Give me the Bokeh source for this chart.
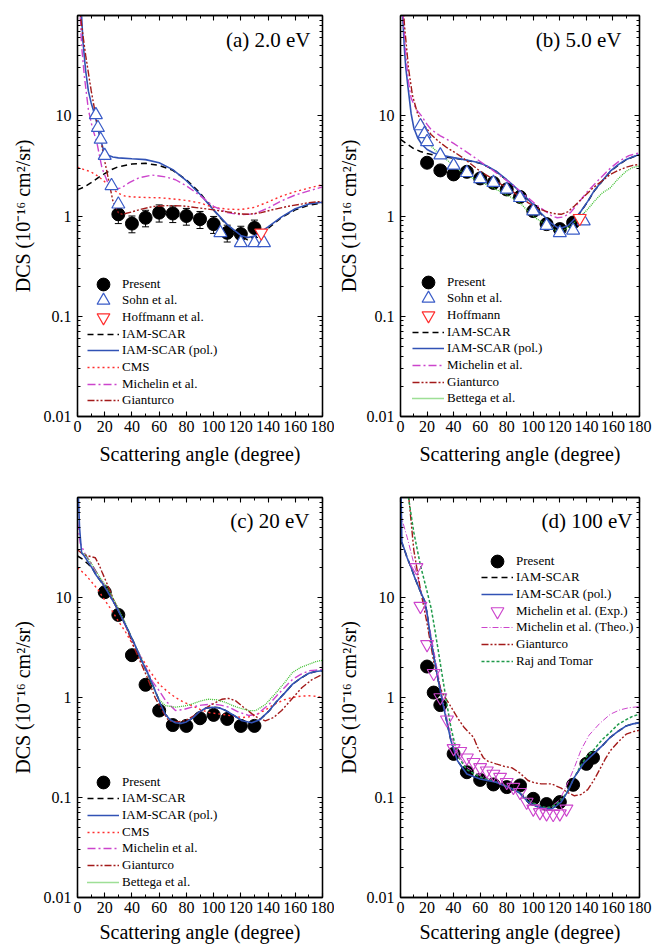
from bokeh.plotting import figure
from bokeh.models import (FixedTicker, CustomJSTickFormatter, LinearAxis, LogAxis,
                          Legend, LegendItem, Label, Whisker, TeeHead, ColumnDataSource)
from bokeh.layouts import column, row
from bokeh.embed import file_html
from bokeh.resources import INLINE

FONT = "Liberation Serif"

# ---------------- axes ticks / labels ----------------
X_TICKS = [0, 20, 40, 60, 80, 100, 120, 140, 160, 180]
X_MINOR = [10, 30, 50, 70, 90, 110, 130, 150, 170]
Y_TICKS = [0.01, 0.1, 1, 10]
Y_MINOR = [0.02, 0.03, 0.04, 0.05, 0.06, 0.07, 0.08, 0.09,
           0.2, 0.3, 0.4, 0.5, 0.6, 0.7, 0.8, 0.9,
           2, 3, 4, 5, 6, 7, 8, 9, 20, 30, 40, 50, 60, 70, 80, 90]
X_LABEL = "Scattering angle (degree)"
Y_LABEL = "DCS (10\u207b\u00b9\u2076 cm\u00b2/sr)"
PANEL_TITLES = ["(a) 2.0 eV", "(b) 5.0 eV", "(c) 20 eV", "(d) 100 eV"]

# ---------------- panel (a) 2.0 eV ----------------
A_PRES_X = [30, 40, 50, 60, 70, 80, 90, 100, 110, 120, 130]
A_PRES_Y = [1.04, 0.84, 0.96, 1.08, 1.06, 1.0, 0.93, 0.83, 0.68, 0.66, 0.76]
A_PRES_ERR = [0.2, 0.16, 0.18, 0.21, 0.2, 0.19, 0.18, 0.16, 0.13, 0.13, 0.15]
A_SOHN_X = [13.5, 15, 17, 20, 25, 30, 105, 120, 130, 137]
A_SOHN_Y = [10.2, 7.6, 5.8, 4.0, 2.0, 1.31, 0.68, 0.54, 0.54, 0.54]
A_HOFF_X = [135]
A_HOFF_Y = [0.68]
A_IAM_X = [0, 5, 10, 15, 20, 25, 30, 40, 50, 60, 70, 80, 90, 100, 110, 120, 125, 130, 140, 150, 160, 170, 180]
A_IAM_Y = [1.82, 1.95, 2.15, 2.4, 2.65, 2.9, 3.1, 3.3, 3.35, 3.2, 2.85, 2.3, 1.7, 1.15, 0.8, 0.62, 0.58, 0.6, 0.75, 0.97, 1.15, 1.28, 1.35]
A_POL_X = [0, 2, 3, 4, 6, 8, 10, 13, 16, 19, 22, 26, 30, 40, 50, 60, 70, 80, 90, 100, 110, 120, 125, 130, 140, 150, 160, 170, 180]
A_POL_Y = [300, 160, 100, 55, 28, 17.6, 13.5, 9.9, 6.5, 4.6, 4.05, 3.88, 3.8, 3.72, 3.65, 3.4, 2.9, 2.25, 1.65, 1.15, 0.82, 0.64, 0.61, 0.63, 0.78, 0.98, 1.18, 1.32, 1.37]
A_CMS_X = [0, 5, 10, 15, 20, 25, 30, 35, 40, 50, 60, 70, 80, 90, 100, 110, 120, 130, 140, 150, 160, 170, 180]
A_CMS_Y = [3.07, 2.9, 2.75, 2.5, 2.2, 1.9, 1.68, 1.58, 1.55, 1.53, 1.52, 1.48, 1.43, 1.35, 1.22, 1.17, 1.16, 1.22, 1.38, 1.58, 1.75, 1.9, 2.05]
A_MICH_X = [0, 2, 3, 5, 8, 11, 14, 18, 22, 27, 32, 38, 45, 55, 65, 72, 80, 90, 100, 110, 120, 130, 140, 150, 160, 170, 180]
A_MICH_Y = [200, 100, 50, 25, 11.5, 7.5, 5.6, 3.0, 2.2, 1.85, 1.9, 2.15, 2.4, 2.56, 2.45, 2.3, 2.0, 1.6, 1.25, 1.08, 1.03, 1.05, 1.2, 1.42, 1.62, 1.78, 1.95]
A_GIAN_X = [0, 3, 6, 10, 14, 17, 19, 22, 26, 30, 33, 40, 47, 55, 65, 77, 90, 100, 110, 120, 126, 135, 145, 155, 165, 170, 180]
A_GIAN_Y = [200, 80, 40, 18, 9, 6, 4.1, 2.6, 1.41, 1.08, 1.04, 1.1, 1.17, 1.24, 1.27, 1.26, 1.2, 1.15, 1.1, 1.05, 1.04, 1.08, 1.17, 1.25, 1.32, 1.36, 1.4]

# ---------------- panel (b) 5.0 eV ----------------
B_PRES_X = [20, 30, 40, 50, 60, 70, 80, 90, 100, 110, 120, 130]
B_PRES_Y = [3.4, 2.85, 2.6, 2.76, 2.37, 2.14, 1.84, 1.55, 1.12, 0.83, 0.74, 0.86]
B_SOHN_X = [15, 18, 20, 30, 40, 50, 60, 70, 80, 90, 100, 110, 120, 130, 138]
B_SOHN_Y = [7.9, 6.6, 5.5, 4.05, 3.2, 2.7, 2.35, 2.15, 1.84, 1.52, 1.12, 0.8, 0.68, 0.72, 0.89]
B_HOFF_X = [135]
B_HOFF_Y = [0.95]
B_IAM_X = [0, 5, 10, 15, 20, 25, 30, 35, 40, 47, 55, 60, 65, 72, 80, 84, 90, 96, 102, 108, 113, 118, 121, 126, 131, 136, 141, 146, 152, 158, 164, 170, 175, 180]
B_IAM_Y = [5.8, 5.2, 4.7, 4.4, 4.2, 4.05, 3.92, 3.85, 3.78, 3.64, 3.48, 3.36, 3.13, 2.78, 2.28, 2.05, 1.73, 1.45, 1.18, 0.98, 0.85, 0.76, 0.75, 0.79, 0.92, 1.11, 1.39, 1.78, 2.23, 2.78, 3.22, 3.64, 3.88, 4.08]
B_POL_X = [0, 1, 2, 3, 4, 6, 8, 10, 13, 16, 20, 25, 30, 35, 40, 47, 55, 60, 65, 72, 80, 84, 90, 96, 102, 108, 113, 118, 121, 126, 131, 136, 141, 146, 152, 158, 164, 170, 175, 180]
B_POL_Y = [300, 150, 80, 45, 30, 17.6, 10.5, 7.6, 6.0, 5.2, 4.6, 4.25, 4.05, 3.95, 3.82, 3.67, 3.5, 3.38, 3.15, 2.8, 2.3, 2.07, 1.75, 1.47, 1.2, 1.0, 0.86, 0.77, 0.76, 0.8, 0.93, 1.12, 1.4, 1.8, 2.25, 2.8, 3.25, 3.67, 3.9, 4.1]
B_MICH_X = [0, 2, 4, 6, 8, 12, 16, 20, 23, 30, 35, 40, 47, 55, 60, 72, 84, 96, 103, 109, 114, 118, 123, 128, 134, 141, 150, 158, 165, 172, 180]
B_MICH_Y = [300, 100, 40, 22, 15, 11.5, 9.9, 8.2, 7.3, 6.3, 5.8, 5.3, 4.6, 3.9, 3.5, 2.7, 2.07, 1.52, 1.27, 1.12, 1.0, 0.96, 0.98, 1.08, 1.35, 1.77, 2.35, 3.0, 3.55, 4.0, 4.27]
B_GIAN_X = [0, 3, 6, 9, 13, 18, 23, 29, 35, 41, 47, 53, 60, 66, 72, 84, 96, 102, 109, 115, 121, 126, 131, 138, 145, 152, 158, 164, 170, 175, 180]
B_GIAN_Y = [300, 80, 30, 16, 10.3, 8.0, 6.5, 5.5, 4.8, 4.3, 3.8, 3.3, 2.8, 2.5, 2.23, 1.77, 1.36, 1.22, 1.12, 1.06, 1.04, 1.1, 1.26, 1.55, 1.91, 2.25, 2.6, 2.85, 3.07, 3.2, 3.27]
B_BETT_X = [15, 19, 23, 28, 33, 40, 47, 54, 60, 66, 72, 78, 84, 90, 96, 102, 109, 114, 118, 123, 128, 131, 136, 141, 147, 152, 158, 164, 170, 175, 180]
B_BETT_Y = [6.8, 5.6, 5.0, 4.3, 3.8, 3.2, 2.7, 2.4, 2.23, 2.02, 1.84, 1.68, 1.52, 1.35, 1.12, 0.95, 0.83, 0.75, 0.71, 0.72, 0.8, 0.86, 1.0, 1.17, 1.45, 1.7, 1.91, 2.35, 2.8, 3.05, 3.15]

# ---------------- panel (c) 20 eV ----------------
C_PRES_X = [20, 30, 40, 50, 60, 70, 80, 90, 100, 110, 120, 130]
C_PRES_Y = [11.3, 6.7, 2.65, 1.34, 0.74, 0.53, 0.52, 0.62, 0.67, 0.61, 0.52, 0.52]
C_IAM_X = [0, 4, 8, 11, 14, 18, 22, 28, 32, 37.5, 42, 47, 52, 57, 61, 64.5, 68, 72, 76, 80, 85, 89, 94, 99, 104, 109, 115, 121, 128, 134, 141, 146, 152, 158, 164, 170, 175, 180]
C_IAM_Y = [26, 24, 21.5, 19.5, 16.5, 14, 11.5, 8.3, 6.5, 4.6, 3.4, 2.35, 1.7, 1.17, 0.86, 0.68, 0.6, 0.56, 0.55, 0.57, 0.63, 0.71, 0.78, 0.8, 0.79, 0.74, 0.66, 0.585, 0.56, 0.6, 0.74, 0.9, 1.1, 1.36, 1.56, 1.75, 1.82, 1.85]
C_POL_X = [0, 0.7, 1.5, 3, 5, 10.6, 14, 18, 22, 28, 32, 37.5, 42, 47, 52, 57, 61, 64.5, 68, 72, 76, 80, 85, 89, 94, 99, 104, 109, 115, 121, 128, 134, 141, 146, 152, 158, 164, 170, 175, 180]
C_POL_Y = [300, 100, 50, 28, 26, 19.8, 16.5, 14, 11.5, 8.3, 6.5, 4.6, 3.4, 2.35, 1.7, 1.17, 0.86, 0.68, 0.6, 0.56, 0.55, 0.57, 0.63, 0.71, 0.78, 0.8, 0.79, 0.74, 0.66, 0.585, 0.56, 0.6, 0.74, 0.9, 1.1, 1.36, 1.56, 1.75, 1.82, 1.85]
C_CMS_X = [0, 5.7, 10, 15, 20, 25, 30, 35, 41, 47, 53, 60, 66, 72, 78, 84, 90, 96, 102, 109, 115, 121, 126, 131, 138, 145, 152, 158, 164, 170, 175, 180]
C_CMS_Y = [19.8, 17, 14.5, 12, 9.4, 7.5, 5.8, 4.6, 3.3, 2.5, 1.85, 1.36, 1.15, 1.0, 0.9, 0.83, 0.76, 0.71, 0.69, 0.67, 0.65, 0.63, 0.64, 0.67, 0.75, 0.86, 0.95, 1.0, 1.03, 1.04, 1.03, 1.0]
C_MICH_X = [0, 2, 5.7, 10, 15, 20, 25, 30, 35, 40, 45, 50, 55, 60, 65, 72, 78, 84, 91, 99, 105, 111, 118, 126, 132, 141, 148, 158, 164, 170, 175, 180]
C_MICH_Y = [57, 35, 27, 22, 17, 13, 10, 7.5, 5.3, 3.8, 2.8, 2.0, 1.45, 1.17, 0.92, 0.74, 0.76, 0.8, 0.84, 0.86, 0.84, 0.8, 0.72, 0.66, 0.68, 0.86, 1.1, 1.52, 1.7, 1.85, 1.88, 1.9]
C_GIAN_X = [0, 4, 8, 13, 16, 18, 23, 28, 35, 41, 47, 52, 57, 62, 67, 73, 79, 85, 91.5, 98, 106, 111, 116, 122, 128, 133, 138, 144, 150, 157, 165, 172, 180]
C_GIAN_Y = [30, 27, 26, 25, 21, 18, 12.5, 8.5, 5.4, 3.3, 2.15, 1.5, 1.0, 0.75, 0.585, 0.57, 0.585, 0.65, 0.74, 0.84, 0.96, 0.98, 0.93, 0.8, 0.69, 0.62, 0.585, 0.63, 0.74, 0.95, 1.26, 1.5, 1.71]
C_BETT_X = [3, 5.7, 10, 15, 20, 25, 30, 35, 40, 45, 50, 55, 60, 64.5, 72, 78, 84, 90, 96, 102, 109, 115, 121, 126, 131, 138, 145, 152, 158, 164, 170, 175, 180]
C_BETT_Y = [28, 27, 22, 17, 13.5, 10.5, 7.8, 5.6, 3.9, 2.8, 1.95, 1.3, 0.95, 0.83, 0.8, 0.82, 0.86, 0.92, 0.96, 0.95, 0.89, 0.82, 0.77, 0.74, 0.74, 0.85, 1.08, 1.4, 1.78, 2.0, 2.15, 2.28, 2.36]

# ---------------- panel (d) 100 eV ----------------
D_PRES_X = [20, 25, 30, 40, 50, 60, 70, 80, 90, 100, 110, 120, 130, 140, 145]
D_PRES_Y = [2.04, 1.12, 0.84, 0.273, 0.179, 0.15, 0.135, 0.127, 0.132, 0.097, 0.086, 0.09, 0.134, 0.217, 0.25]
D_MEXP_X = [12, 15, 20, 25, 30, 35, 40, 45, 50, 55, 60, 65, 70, 75, 80, 85, 90, 95, 100, 105, 110, 115, 120, 125]
D_MEXP_Y = [20, 8.2, 3.4, 1.75, 1.0, 0.6, 0.31, 0.29, 0.25, 0.225, 0.2, 0.185, 0.172, 0.16, 0.142, 0.127, 0.113, 0.09, 0.077, 0.071, 0.069, 0.068, 0.069, 0.077]
D_IAM_X = [0, 1, 3, 5, 8, 10.8, 15, 18.2, 20, 23, 28, 33, 38, 42.8, 50, 60, 72, 84, 90, 96, 102, 109, 114, 117, 121, 126, 131, 138, 145, 152, 158, 164, 170, 175, 180]
D_IAM_Y = [36, 35, 30, 25, 20, 15.7, 11.5, 9.2, 7.0, 3.67, 1.58, 0.74, 0.37, 0.234, 0.172, 0.153, 0.142, 0.122, 0.11, 0.09, 0.082, 0.077, 0.077, 0.082, 0.09, 0.115, 0.16, 0.22, 0.27, 0.33, 0.4, 0.46, 0.52, 0.545, 0.56]
D_POL_X = [0, 0.5, 1, 3, 5, 8, 10.8, 15, 18.2, 20, 23, 28, 33, 38, 42.8, 50, 60, 72, 84, 90, 96, 102, 109, 114, 117, 121, 126, 131, 138, 145, 152, 158, 164, 170, 175, 180]
D_POL_Y = [300, 100, 36, 30, 25, 20, 15.7, 11.5, 9.2, 7.0, 3.67, 1.58, 0.74, 0.37, 0.234, 0.172, 0.153, 0.142, 0.122, 0.11, 0.09, 0.082, 0.077, 0.077, 0.082, 0.09, 0.115, 0.16, 0.22, 0.27, 0.33, 0.4, 0.46, 0.52, 0.545, 0.56]
D_MTH_X = [0, 2, 5, 8, 10, 13, 15, 18, 20, 23, 25, 28, 30, 33, 35, 38, 40, 45, 50, 60, 70, 80, 90, 100, 108, 113, 120, 126, 131, 136, 142, 150, 158, 165, 172, 180]
D_MTH_Y = [70, 55, 40, 28, 22, 16, 12, 8.5, 6.5, 4.2, 3.0, 1.8, 1.3, 0.8, 0.62, 0.42, 0.35, 0.25, 0.2, 0.165, 0.148, 0.13, 0.112, 0.088, 0.078, 0.08, 0.095, 0.14, 0.2, 0.3, 0.42, 0.55, 0.68, 0.75, 0.79, 0.81]
D_GIAN_X = [5, 10, 15, 20, 25, 30, 32, 37, 42.8, 48, 55, 58, 62.4, 66, 72, 78, 84, 90, 96, 101, 106, 113.6, 121, 126, 131, 136, 141, 145.5, 150, 154, 158, 164, 170, 175, 180]
D_GIAN_Y = [150, 30, 12, 5.5, 2.3, 1.25, 1.08, 0.85, 0.63, 0.5, 0.4, 0.32, 0.25, 0.23, 0.217, 0.205, 0.198, 0.175, 0.148, 0.14, 0.137, 0.137, 0.124, 0.112, 0.104, 0.107, 0.12, 0.148, 0.19, 0.24, 0.294, 0.36, 0.43, 0.455, 0.47]
D_RAJ_X = [3, 6, 10, 15, 20, 23, 25, 28, 31, 35, 38, 41.5, 44, 47, 50, 60, 70, 80, 90, 96, 100, 108, 113, 117, 121, 125, 130, 135, 140, 145.5, 152, 158, 164, 170, 175, 180]
D_RAJ_Y = [200, 100, 45, 21, 11.5, 7.9, 5.6, 3.2, 1.8, 0.85, 0.5, 0.32, 0.25, 0.217, 0.19, 0.16, 0.145, 0.13, 0.112, 0.095, 0.088, 0.08, 0.08, 0.085, 0.095, 0.11, 0.15, 0.2, 0.255, 0.3, 0.38, 0.45, 0.54, 0.6, 0.65, 0.68]

# ---------------- styles ----------------
C_BLUE = "#3152b5"
C_SOHN = "#3a5cc8"
C_RED = "#ff2d2d"
C_MAG = "#cc44cc"
C_DRED = "#a31a1a"
C_LGREEN = "#3cbf2c"
C_DGREEN = "#1f9a4a"


def style_axis(ax, labels=True):
    ax.major_tick_in = 5
    ax.major_tick_out = 0
    ax.minor_tick_in = 3
    ax.minor_tick_out = 0
    ax.axis_line_width = 1.3
    ax.axis_line_color = "black"
    ax.major_tick_line_width = 1.1
    ax.minor_tick_line_width = 1
    ax.major_tick_line_color = "black"
    ax.minor_tick_line_color = "black"
    if labels:
        ax.major_label_text_font = FONT
        ax.major_label_text_font_size = "16px"
        ax.major_label_text_color = "black"
        ax.axis_label_text_font = FONT
        ax.axis_label_text_font_size = "20px"
        ax.axis_label_text_font_style = "normal"
        ax.axis_label_text_color = "black"


def make_fig(w, h, mbl, mbr, mbt, mbb, x_std, y_std):
    p = figure(width=w, height=h, x_range=(0, 180), y_range=(0.01, 100), y_axis_type="log",
               output_backend="svg", toolbar_location=None,
               min_border_left=mbl, min_border_right=mbr, min_border_top=mbt, min_border_bottom=mbb,
               background_fill_color="white", border_fill_color="white")
    p.grid.visible = False
    p.outline_line_color = "black"
    p.outline_line_width = 1.3
    xt = FixedTicker(ticks=X_TICKS, minor_ticks=X_MINOR)
    yt = FixedTicker(ticks=Y_TICKS, minor_ticks=Y_MINOR)
    xa = p.xaxis[0]
    ya = p.yaxis[0]
    xa.ticker = xt
    ya.ticker = yt
    ya.formatter = CustomJSTickFormatter(code="return tick.toString();")
    style_axis(xa)
    style_axis(ya)
    xa.axis_label = X_LABEL
    ya.axis_label = Y_LABEL
    xa.major_label_standoff = 4
    ya.major_label_standoff = 6
    xa.axis_label_standoff = x_std
    ya.axis_label_standoff = y_std
    empty = CustomJSTickFormatter(code="return '';")
    top = LinearAxis(ticker=xt, formatter=empty, major_label_text_font_size="1px", major_label_standoff=0)
    right = LogAxis(ticker=yt, formatter=empty, major_label_text_font_size="1px", major_label_standoff=0)
    style_axis(top, labels=False)
    style_axis(right, labels=False)
    p.add_layout(top, "above")
    p.add_layout(right, "right")
    return p


def title(p, text, x, y):
    p.add_layout(Label(x=x, y=y, x_units="screen", y_units="screen", text=text,
                       text_align="right", text_baseline="middle", text_font=FONT,
                       text_font_size="21px", text_color="black"))


def line(p, xs, ys, color, dash, width=1.3):
    return p.line(xs, ys, line_color=color, line_dash=dash, line_width=width)


def legend(p, frame_h, x_off, first_center, items):
    gh = 34
    step = 16.67
    for i, (lab, r) in enumerate(items):
        c = first_center + step * i
        lg = Legend(items=[LegendItem(label=lab, renderers=[r])],
                    location=(x_off, frame_h - c - gh / 2),
                    glyph_width=32, glyph_height=gh, label_height=14, label_width=10,
                    label_standoff=3, padding=0, margin=0, spacing=0,
                    border_line_color=None, background_fill_alpha=0,
                    label_text_font=FONT, label_text_font_size="13px", label_text_color="black")
        p.add_layout(lg)


# ================= (a) =================
pa = make_fig(334, 470, 77, 12, 15, 54, 8, 7)
src_a = ColumnDataSource(dict(x=A_PRES_X,
                              lo=[v - e for v, e in zip(A_PRES_Y, A_PRES_ERR)],
                              hi=[v + e for v, e in zip(A_PRES_Y, A_PRES_ERR)]))
pa.add_layout(Whisker(source=src_a, base="x", lower="lo", upper="hi", dimension="height",
                      line_color="black", line_width=1,
                      upper_head=TeeHead(size=7, line_color="black", line_width=1),
                      lower_head=TeeHead(size=7, line_color="black", line_width=1)))
ra_pres = pa.scatter(A_PRES_X, A_PRES_Y, marker="circle", size=13, fill_color="black", line_color="black")
ra_iam = line(pa, A_IAM_X, A_IAM_Y, "black", "6 4", 1.5)
ra_pol = line(pa, A_POL_X, A_POL_Y, C_BLUE, "solid", 1.6)
ra_cms = line(pa, A_CMS_X, A_CMS_Y, C_RED, "2 3", 1.4)
ra_mich = line(pa, A_MICH_X, A_MICH_Y, C_MAG, "8 3 2 3", 1.4)
ra_gian = line(pa, A_GIAN_X, A_GIAN_Y, C_DRED, "7 2 2 2 2 2", 1.4)
ra_sohn = pa.scatter(A_SOHN_X, A_SOHN_Y, marker="triangle", size=13, fill_color="white",
                     line_color=C_SOHN, line_width=1.2)
ra_hoff = pa.scatter(A_HOFF_X, A_HOFF_Y, marker="inverted_triangle", size=13, fill_color="white",
                     line_color=C_RED, line_width=1.2)
title(pa, PANEL_TITLES[0], 233, 377)
legend(pa, 401, 10, 268.7, [("Present", ra_pres), ("Sohn et al.", ra_sohn), ("Hoffmann et al.", ra_hoff),
                            ("IAM-SCAR", ra_iam), ("IAM-SCAR (pol.)", ra_pol), ("CMS", ra_cms),
                            ("Michelin et al.", ra_mich), ("Gianturco", ra_gian)])

# ================= (b) =================
pb = make_fig(318, 470, 61, 13, 15, 54, 8, 4)
rb_pres = pb.scatter(B_PRES_X, B_PRES_Y, marker="circle", size=13, fill_color="black", line_color="black")
rb_iam = line(pb, B_IAM_X, B_IAM_Y, "black", "6 4", 1.5)
rb_pol = line(pb, B_POL_X, B_POL_Y, C_BLUE, "solid", 1.6)
rb_mich = line(pb, B_MICH_X, B_MICH_Y, C_MAG, "8 3 2 3", 1.4)
rb_gian = line(pb, B_GIAN_X, B_GIAN_Y, C_DRED, "7 2 2 2 2 2", 1.4)
rb_bett = line(pb, B_BETT_X, B_BETT_Y, C_LGREEN, "1 1", 1.3)
rb_sohn = pb.scatter(B_SOHN_X, B_SOHN_Y, marker="triangle", size=13, fill_color="white",
                     line_color=C_SOHN, line_width=1.2)
rb_hoff = pb.scatter(B_HOFF_X, B_HOFF_Y, marker="inverted_triangle", size=13, fill_color="white",
                     line_color=C_RED, line_width=1.2)
title(pb, PANEL_TITLES[1], 221, 377)
legend(pb, 401, 12, 266.7, [("Present", rb_pres), ("Sohn et al.", rb_sohn), ("Hoffmann", rb_hoff),
                            ("IAM-SCAR", rb_iam), ("IAM-SCAR (pol.)", rb_pol),
                            ("Michelin et al.", rb_mich), ("Gianturco", rb_gian), ("Bettega et al.", rb_bett)])

# ================= (c) =================
pc = make_fig(334, 477, 77, 12, 27, 50, 5, 7)
rc_pres = pc.scatter(C_PRES_X, C_PRES_Y, marker="circle", size=13, fill_color="black", line_color="black")
rc_iam = line(pc, C_IAM_X, C_IAM_Y, "black", "6 4", 1.5)
rc_cms = line(pc, C_CMS_X, C_CMS_Y, C_RED, "2 3", 1.4)
rc_mich = line(pc, C_MICH_X, C_MICH_Y, C_MAG, "8 3 2 3", 1.4)
rc_gian = line(pc, C_GIAN_X, C_GIAN_Y, C_DRED, "7 2 2 2 2 2", 1.4)
rc_bett = line(pc, C_BETT_X, C_BETT_Y, C_LGREEN, "1 1", 1.3)
rc_pol = line(pc, C_POL_X, C_POL_Y, C_BLUE, "solid", 1.6)
title(pc, PANEL_TITLES[2], 232, 377)
legend(pc, 400, 10, 284.7, [("Present", rc_pres), ("IAM-SCAR", rc_iam), ("IAM-SCAR (pol.)", rc_pol),
                            ("CMS", rc_cms), ("Michelin et al.", rc_mich), ("Gianturco", rc_gian),
                            ("Bettega et al.", rc_bett)])

# ================= (d) =================
pd_ = make_fig(318, 477, 61, 13, 27, 50, 5, 4)
rd_pres = pd_.scatter(D_PRES_X, D_PRES_Y, marker="circle", size=13, fill_color="black", line_color="black")
rd_iam = line(pd_, D_IAM_X, D_IAM_Y, "black", "6 4", 1.5)
rd_mth = line(pd_, D_MTH_X, D_MTH_Y, C_MAG, "6 2 1 2", 1.0)
rd_gian = line(pd_, D_GIAN_X, D_GIAN_Y, C_DRED, "7 2 2 2 2 2", 1.4)
rd_raj = line(pd_, D_RAJ_X, D_RAJ_Y, C_DGREEN, "3 2", 1.5)
rd_pol = line(pd_, D_POL_X, D_POL_Y, C_BLUE, "solid", 1.6)
rd_mexp = pd_.scatter(D_MEXP_X, D_MEXP_Y, marker="inverted_triangle", size=13, fill_color=None,
                      line_color=C_MAG, line_width=1.1)
title(pd_, PANEL_TITLES[3], 232, 377)
legend(pd_, 400, 81, 63.7, [("Present", rd_pres), ("IAM-SCAR", rd_iam), ("IAM-SCAR (pol.)", rd_pol),
                            ("Michelin et al. (Exp.)", rd_mexp), ("Michelin et al. (Theo.)", rd_mth),
                            ("Gianturco", rd_gian), ("Raj and Tomar", rd_raj)])

layout = column(row(pa, pb), row(pc, pd_))
open("out.html", "w").write(file_html(layout, INLINE))
